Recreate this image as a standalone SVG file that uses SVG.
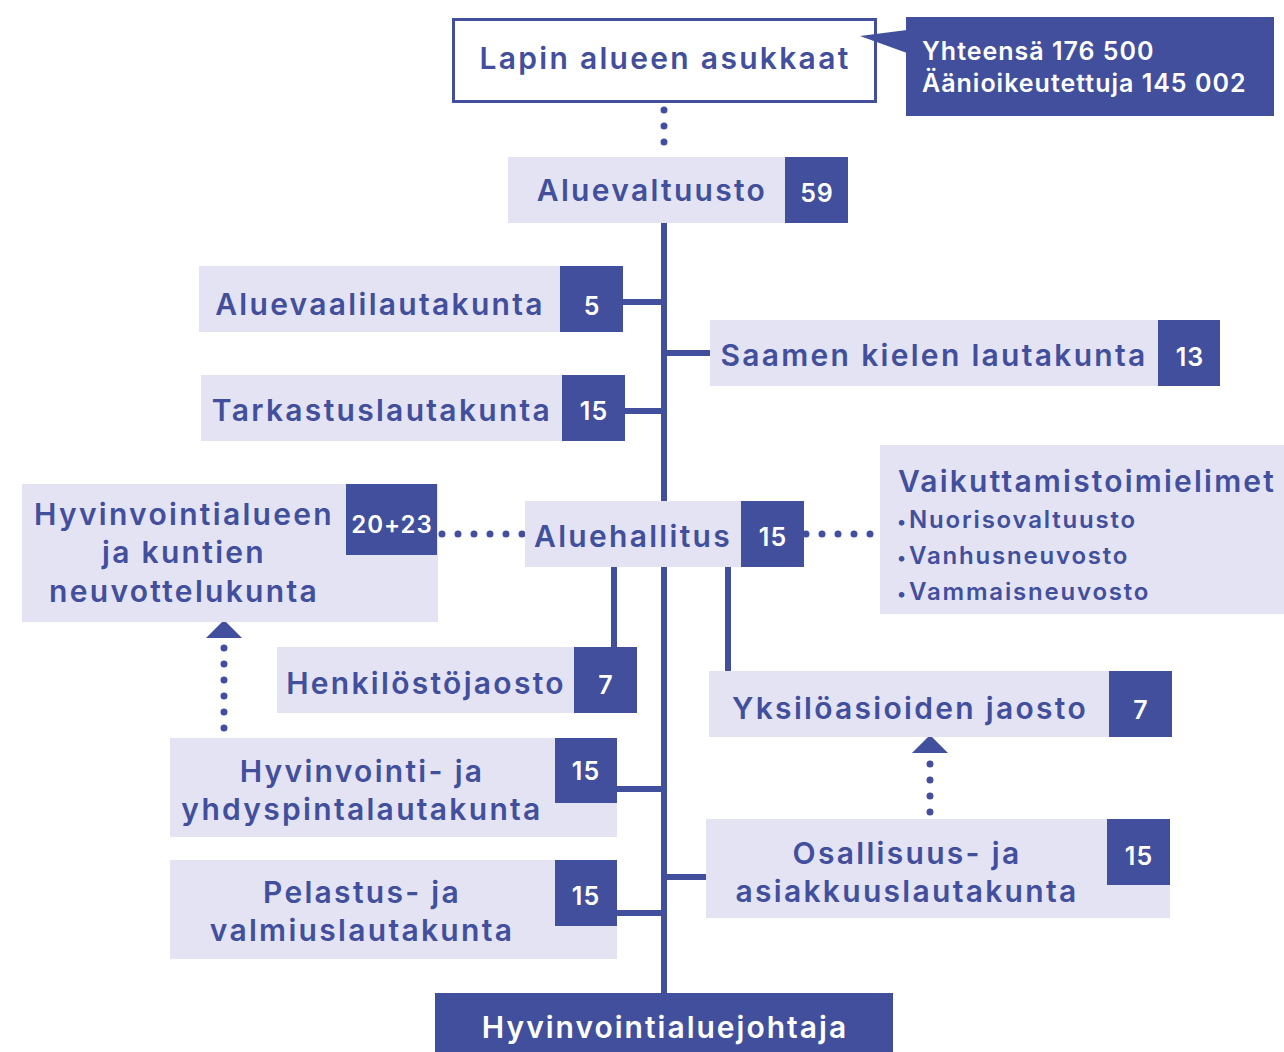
<svg xmlns="http://www.w3.org/2000/svg" width="1284" height="1052" viewBox="0 0 1284 1052">
<defs>
<style>
.lt{fill:#e4e3f3}
.dk{fill:#424f9c}
.t{font-family:Inter,"Open Sans","Liberation Sans",sans-serif;font-weight:600;fill:#424f9c;font-size:30px;letter-spacing:2.3px;text-anchor:middle}
.w{font-family:Inter,"Open Sans","Liberation Sans",sans-serif;font-weight:600;fill:#ffffff;font-size:25px;letter-spacing:1px;text-anchor:middle}
.s{font-family:Inter,"Open Sans","Liberation Sans",sans-serif;font-weight:600;fill:#424f9c;font-size:24px;letter-spacing:1.8px}
.b{font-size:18px;letter-spacing:3px}
.ln{stroke:#424f9c;stroke-width:6;fill:none}
.dot{stroke:#424f9c;stroke-width:7;stroke-linecap:round;stroke-dasharray:0 16;fill:none}
</style>
</defs>
<g id="connectors">
<line class="ln" x1="664" y1="223" x2="664" y2="995"/>
<line class="ln" x1="623" y1="302" x2="664" y2="302"/>
<line class="ln" x1="664" y1="353" x2="710" y2="353"/>
<line class="ln" x1="625" y1="411" x2="664" y2="411"/>
<line class="ln" x1="614" y1="567" x2="614" y2="647"/>
<line class="ln" x1="728" y1="567" x2="728" y2="671"/>
<line class="ln" x1="617" y1="789" x2="664" y2="789"/>
<line class="ln" x1="617" y1="913" x2="664" y2="913"/>
<line class="ln" x1="664" y1="877" x2="706" y2="877"/>
<line class="dot" x1="664" y1="110" x2="664" y2="155"/>
<line class="dot" x1="442" y1="534" x2="523" y2="534"/>
<line class="dot" x1="806" y1="534" x2="871" y2="534"/>
<line class="dot" x1="224" y1="648" x2="224" y2="729"/>
<polygon class="dk" points="224,620 242,638 206,638"/>
<line class="dot" x1="930" y1="764" x2="930" y2="813"/>
<polygon class="dk" points="930,735 948,753 912,753"/>
</g>
<g id="lapin">
<rect x="453.5" y="19.5" width="422" height="82" fill="#fff" stroke="#424f9c" stroke-width="3"/>
<text class="t" x="665" y="69">Lapin alueen asukkaat</text>
</g>
<g id="callout">
<polygon class="dk" points="860,36 907,30 907,53"/>
<rect class="dk" x="906" y="17" width="368" height="99"/>
<text class="w" x="922" y="60" style="text-anchor:start">Yhteensä 176 500</text>
<text class="w" x="922" y="92" style="text-anchor:start">Äänioikeutettuja 145 002</text>
</g>
<g id="aluevaltuusto">
<rect class="lt" x="508" y="157" width="277" height="66"/>
<rect class="dk" x="785" y="157" width="63" height="66"/>
<text class="t" x="652" y="201">Aluevaltuusto</text>
<text class="w" x="817" y="202">59</text>
</g>
<g id="aluevaalilautakunta">
<rect class="lt" x="199" y="266" width="361" height="66"/>
<rect class="dk" x="560" y="266" width="63" height="66"/>
<text class="t" x="380" y="315">Aluevaalilautakunta</text>
<text class="w" x="592" y="315">5</text>
</g>
<g id="saamen">
<rect class="lt" x="710" y="320" width="448" height="66"/>
<rect class="dk" x="1158" y="320" width="62" height="66"/>
<text class="t" x="934" y="366">Saamen kielen lautakunta</text>
<text class="w" x="1190" y="366">13</text>
</g>
<g id="tarkastuslautakunta">
<rect class="lt" x="201" y="375" width="361" height="66"/>
<rect class="dk" x="562" y="375" width="63" height="66"/>
<text class="t" x="382" y="421">Tarkastuslautakunta</text>
<text class="w" x="594" y="420">15</text>
</g>
<g id="neuvottelukunta">
<rect class="lt" x="22" y="484" width="416" height="138"/>
<rect class="dk" x="346" y="484" width="91" height="71"/>
<text class="t" x="184" y="525">Hyvinvointialueen</text>
<text class="t" x="184" y="563">ja kuntien</text>
<text class="t" x="184" y="602">neuvottelukunta</text>
<text class="w" x="392" y="533" style="font-size:24px">20+23</text>
</g>
<g id="aluehallitus">
<rect class="lt" x="525" y="501" width="216" height="66"/>
<rect class="dk" x="741" y="501" width="63" height="66"/>
<text class="t" x="633" y="547">Aluehallitus</text>
<text class="w" x="773" y="546">15</text>
</g>
<g id="vaikuttamistoimielimet">
<rect class="lt" x="880" y="445" width="404" height="169"/>
<text class="t" x="898" y="492" style="text-anchor:start;letter-spacing:2.2px">Vaikuttamistoimielimet</text>
<text class="s" x="897" y="528"><tspan class="b">•</tspan>Nuorisovaltuusto</text>
<text class="s" x="897" y="564"><tspan class="b">•</tspan>Vanhusneuvosto</text>
<text class="s" x="897" y="600"><tspan class="b">•</tspan>Vammaisneuvosto</text>
</g>
<g id="henkilostojaosto">
<rect class="lt" x="277" y="647" width="297" height="66"/>
<rect class="dk" x="574" y="647" width="63" height="66"/>
<text class="t" x="426" y="694">Henkilöstöjaosto</text>
<text class="w" x="606" y="694">7</text>
</g>
<g id="yksiloasioiden">
<rect class="lt" x="709" y="671" width="400" height="66"/>
<rect class="dk" x="1109" y="671" width="63" height="66"/>
<text class="t" x="910" y="719">Yksilöasioiden jaosto</text>
<text class="w" x="1141" y="719">7</text>
</g>
<g id="hyvinvointi">
<rect class="lt" x="170" y="738" width="447" height="99"/>
<rect class="dk" x="555" y="738" width="62" height="65"/>
<text class="t" x="362" y="782">Hyvinvointi- ja</text>
<text class="t" x="362" y="820">yhdyspintalautakunta</text>
<text class="w" x="586" y="780">15</text>
</g>
<g id="osallisuus">
<rect class="lt" x="706" y="819" width="464" height="99"/>
<rect class="dk" x="1107" y="819" width="63" height="66"/>
<text class="t" x="907" y="864">Osallisuus- ja</text>
<text class="t" x="907" y="902">asiakkuuslautakunta</text>
<text class="w" x="1139" y="865">15</text>
</g>
<g id="pelastus">
<rect class="lt" x="170" y="860" width="447" height="99"/>
<rect class="dk" x="555" y="860" width="62" height="66"/>
<text class="t" x="362" y="903">Pelastus- ja</text>
<text class="t" x="362" y="941">valmiuslautakunta</text>
<text class="w" x="586" y="905">15</text>
</g>
<g id="johtaja">
<rect class="dk" x="435" y="993" width="458" height="59"/>
<text class="w" x="665" y="1038" style="font-size:30px;letter-spacing:2px">Hyvinvointialuejohtaja</text>
</g>
</svg>
